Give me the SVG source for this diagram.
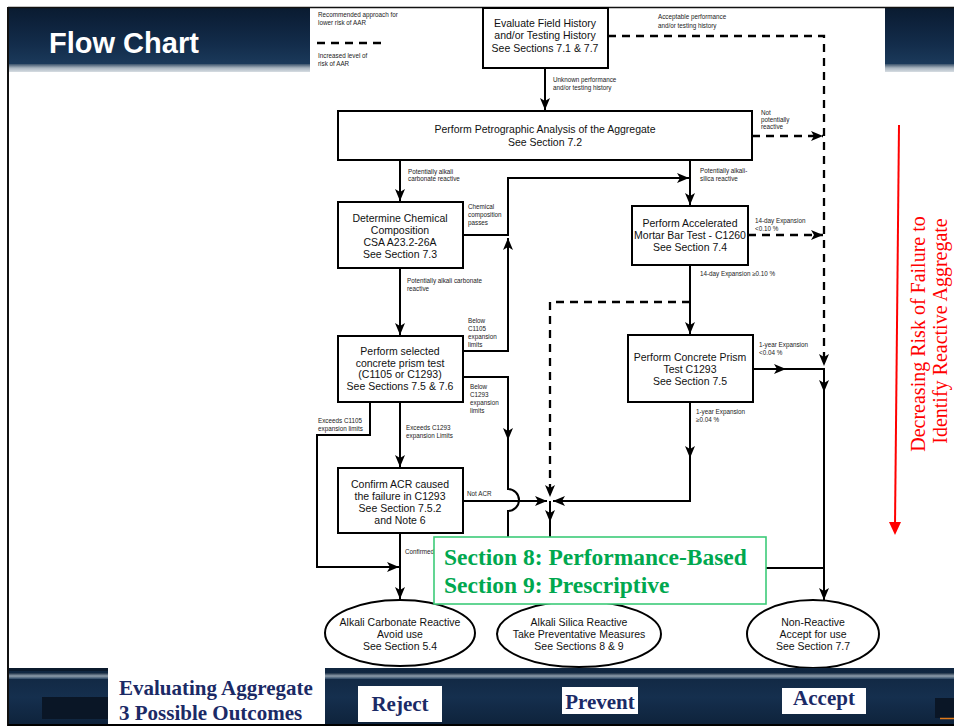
<svg xmlns="http://www.w3.org/2000/svg" width="954" height="726" viewBox="0 0 954 726">
<defs>
  <linearGradient id="navy" x1="0" y1="0" x2="0" y2="1">
    <stop offset="0" stop-color="#0a1b31"/>
    <stop offset="0.6" stop-color="#122b49"/>
    <stop offset="1" stop-color="#1b3a5b"/>
  </linearGradient>
  <linearGradient id="navyB" x1="0" y1="0" x2="0" y2="1">
    <stop offset="0" stop-color="#10263f"/>
    <stop offset="0.5" stop-color="#152f4e"/>
    <stop offset="1" stop-color="#0e223a"/>
  </linearGradient>
  <linearGradient id="stripe" x1="0" y1="0" x2="0" y2="1">
    <stop offset="0" stop-color="#3a526b"/>
    <stop offset="0.5" stop-color="#a9b5c0"/>
    <stop offset="1" stop-color="#d7dde2"/>
  </linearGradient>
  <linearGradient id="stripeB" x1="0" y1="0" x2="0" y2="1">
    <stop offset="0" stop-color="#1c2f45"/>
    <stop offset="0.5" stop-color="#8f9eac"/>
    <stop offset="1" stop-color="#2a4562"/>
  </linearGradient>
  <marker id="ah" viewBox="0 0 12 10" refX="12" refY="5" markerWidth="12" markerHeight="10" markerUnits="userSpaceOnUse" orient="auto">
    <path d="M0,0 L12,5 L0,10 L3,5 z" fill="#000" stroke="none"/>
  </marker>
  <style>
    .box{fill:#fff;stroke:#000;stroke-width:2}
    .bt{font-family:"Liberation Sans",Arial,sans-serif;font-size:10.5px;fill:#111;text-anchor:middle}
    .lb{font-family:"Liberation Sans",Arial,sans-serif;font-size:6.3px;fill:#222}
    .c{fill:none;stroke:#000;stroke-width:2}
    .a{marker-end:url(#ah)}
    .d{stroke-dasharray:8 6;stroke-width:2.3}
    .foot{font-family:"Liberation Serif","Times New Roman",serif;font-weight:bold;font-size:21px;fill:#1b2a66}
  </style>
</defs>

<!-- slide background -->
<rect x="0" y="0" width="954" height="726" fill="#fff"/>

<!-- header bands -->
<g id="header">
  <rect x="8" y="8" width="302" height="57" fill="url(#navy)"/>
  <rect x="8" y="64" width="302" height="8" fill="url(#stripe)"/>
  <rect x="885" y="8" width="69" height="57" fill="url(#navy)"/>
  <rect x="885" y="64" width="69" height="8" fill="url(#stripe)"/>
  <line x1="8" y1="7.5" x2="954" y2="7.5" stroke="#111" stroke-width="1.5"/>
  <line x1="8" y1="7" x2="8" y2="670" stroke="#111" stroke-width="2"/>
  <text x="49" y="53" font-family="'Liberation Sans',Arial,sans-serif" font-weight="bold" font-size="29" fill="#fff">Flow Chart</text>
</g>

<!-- legend -->
<g id="legend">
  <text class="lb" x="318" y="17">Recommended approach for</text>
  <text class="lb" x="318" y="25">lower risk of AAR</text>
  <line x1="317" y1="43" x2="385" y2="43" stroke="#000" stroke-width="2.3" stroke-dasharray="8 6"/>
  <text class="lb" x="318" y="58">Increased level of</text>
  <text class="lb" x="318" y="66">risk of AAR</text>
</g>

<!-- connectors -->
<g id="connectors">
  <path class="c a" d="M545,68 V110"/>
  <path class="c d a" d="M608,36 H824 V366"/>
  <path class="c d a" d="M752,136 H823"/>
  <path class="c a" d="M400,160 V201"/>
  <path class="c a" d="M690,160 V205"/>
  <path class="c a" d="M463,235 H508 V178 H689"/>
  <path class="c a" d="M463,351 H508 V238"/>
  <path class="c a" d="M400,268 V335"/>
  <path class="c d a" d="M748,235 H823"/>
  <path class="c a" d="M690,265 V334"/>
  <path class="c d a" d="M690,302 H550 V497"/>
  <path class="c a" d="M753,369 H786"/>
  <path class="c" d="M784,369 H824"/>
  <path class="c a" d="M824,368 V392"/>
  <path class="c a" d="M824,390 V600"/>
  <path class="c a" d="M690,402 V458"/>
  <path class="c a" d="M690,456 V501 H553"/>
  <path class="c a" d="M463,377 H508 V440"/>
  <path class="c" d="M508,438 V489 A11,11 0 0 1 508,511 V560"/>
  <path class="c a" d="M463,501 H547"/>
  <path class="c a" d="M550,501 V522"/>
  <path class="c" d="M550,520 V560"/>
  <path class="c a" d="M370,402 V435 H317 V567 H399"/>
  <path class="c a" d="M400,402 V467"/>
  <path class="c a" d="M400,533 V599"/>
  <path class="c" d="M740,568 H824"/>
</g>

<!-- connector labels -->
<g id="labels">
  <text class="lb" x="553" y="82">Unknown performance</text>
  <text class="lb" x="553" y="90">and/or testing history</text>
  <text class="lb" x="658" y="19">Acceptable performance</text>
  <text class="lb" x="658" y="28">and/or testing history</text>
  <text class="lb" x="761" y="115">Not</text>
  <text class="lb" x="761" y="122">potentially</text>
  <text class="lb" x="761" y="129">reactive</text>
  <text class="lb" x="408" y="174">Potentially alkali</text>
  <text class="lb" x="408" y="181">carbonate reactive</text>
  <text class="lb" x="700" y="173">Potentially alkali-</text>
  <text class="lb" x="700" y="181">silica reactive</text>
  <text class="lb" x="468" y="209">Chemical</text>
  <text class="lb" x="468" y="217">composition</text>
  <text class="lb" x="468" y="225">passes</text>
  <text class="lb" x="407" y="283">Potentially alkali carbonate</text>
  <text class="lb" x="407" y="291">reactive</text>
  <text class="lb" x="468" y="323">Below</text>
  <text class="lb" x="468" y="331">C1105</text>
  <text class="lb" x="468" y="339">expansion</text>
  <text class="lb" x="468" y="347">limits</text>
  <text class="lb" x="470" y="389">Below</text>
  <text class="lb" x="470" y="397">C1293</text>
  <text class="lb" x="470" y="405">expansion</text>
  <text class="lb" x="470" y="413">limits</text>
  <text class="lb" x="318" y="423">Exceeds C1105</text>
  <text class="lb" x="318" y="431">expansion limits</text>
  <text class="lb" x="406" y="430">Exceeds C1293</text>
  <text class="lb" x="406" y="438">expansion Limits</text>
  <text class="lb" x="467" y="496">Not ACR</text>
  <text class="lb" x="405" y="554">Confirmed</text>
  <text class="lb" x="755" y="223">14-day Expansion</text>
  <text class="lb" x="755" y="231">&lt;0.10 %</text>
  <text class="lb" x="700" y="276">14-day Expansion ≥0.10 %</text>
  <text class="lb" x="759" y="347">1-year Expansion</text>
  <text class="lb" x="759" y="355">&lt;0.04 %</text>
  <text class="lb" x="696" y="414">1-year Expansion</text>
  <text class="lb" x="696" y="422">≥0.04 %</text>
</g>

<!-- nodes -->
<g id="n-field">
  <rect class="box" x="483" y="8" width="125" height="60"/>
  <text class="bt" x="545" y="26.5">Evaluate Field History</text>
  <text class="bt" x="545" y="39">and/or Testing History</text>
  <text class="bt" x="545" y="51.5">See Sections 7.1 &amp; 7.7</text>
</g>
<g id="n-petro">
  <rect class="box" x="338" y="111" width="414" height="49"/>
  <text class="bt" x="545" y="133">Perform Petrographic Analysis of the Aggregate</text>
  <text class="bt" x="545" y="146">See Section 7.2</text>
</g>
<g id="n-chem">
  <rect class="box" x="338" y="202" width="125" height="66"/>
  <text class="bt" x="400" y="222">Determine Chemical</text>
  <text class="bt" x="400" y="234">Composition</text>
  <text class="bt" x="400" y="246">CSA A23.2-26A</text>
  <text class="bt" x="400" y="258">See Section 7.3</text>
</g>
<g id="n-amb">
  <rect class="box" x="632" y="206" width="116" height="59"/>
  <text class="bt" x="690" y="227">Perform Accelerated</text>
  <text class="bt" x="690" y="239">Mortar Bar Test - C1260</text>
  <text class="bt" x="690" y="251">See Section 7.4</text>
</g>
<g id="n-cpt-sel">
  <rect class="box" x="338" y="336" width="125" height="66"/>
  <text class="bt" x="400" y="355">Perform selected</text>
  <text class="bt" x="400" y="367">concrete prism test</text>
  <text class="bt" x="400" y="378">(C1105 or C1293)</text>
  <text class="bt" x="400" y="390">See Sections 7.5 &amp; 7.6</text>
</g>
<g id="n-cpt">
  <rect class="box" x="628" y="335" width="125" height="67"/>
  <text class="bt" x="690" y="361">Perform Concrete Prism</text>
  <text class="bt" x="690" y="373">Test C1293</text>
  <text class="bt" x="690" y="385">See Section 7.5</text>
</g>
<g id="n-acr">
  <rect class="box" x="338" y="468" width="125" height="65"/>
  <text class="bt" x="400" y="488">Confirm ACR caused</text>
  <text class="bt" x="400" y="500">the failure in C1293</text>
  <text class="bt" x="400" y="512">See Section 7.5.2</text>
  <text class="bt" x="400" y="524">and Note 6</text>
</g>
<g id="n-acr-out">
  <ellipse class="box" cx="400" cy="633" rx="75" ry="33"/>
  <text class="bt" x="400" y="626" font-size="10">Alkali Carbonate Reactive</text>
  <text class="bt" x="400" y="638" font-size="10">Avoid use</text>
  <text class="bt" x="400" y="650" font-size="10">See Section 5.4</text>
</g>
<g id="n-asr-out">
  <ellipse class="box" cx="579" cy="634" rx="82" ry="33"/>
  <text class="bt" x="579" y="626" font-size="10">Alkali Silica Reactive</text>
  <text class="bt" x="579" y="638" font-size="10">Take Preventative Measures</text>
  <text class="bt" x="579" y="650" font-size="10">See Sections 8 &amp; 9</text>
</g>
<g id="n-nonreactive">
  <ellipse class="box" cx="813" cy="634" rx="66" ry="34"/>
  <text class="bt" x="813" y="626" font-size="10">Non-Reactive</text>
  <text class="bt" x="813" y="638" font-size="10">Accept for use</text>
  <text class="bt" x="813" y="650" font-size="10">See Section 7.7</text>
</g>

<!-- green callout -->
<g id="n-sections">
  <rect x="434" y="537" width="332" height="67" fill="#fff" stroke="#3ccb78" stroke-width="1.6"/>
  <text x="444" y="565" font-family="'Liberation Serif','Times New Roman',serif" font-weight="bold" font-size="23.5" fill="#00a84f">Section 8: Performance-Based</text>
  <text x="444" y="593" font-family="'Liberation Serif','Times New Roman',serif" font-weight="bold" font-size="23.5" fill="#00a84f">Section 9: Prescriptive</text>
</g>

<!-- red risk arrow -->
<g id="risk">
  <line x1="899" y1="125" x2="895" y2="526" stroke="#ff0000" stroke-width="2"/>
  <polygon points="889,522 901,522 895,535" fill="#ff0000"/>
  <text transform="translate(925,334) rotate(-90)" text-anchor="middle" font-family="'Liberation Serif','Times New Roman',serif" font-size="20" fill="#ff0000">Decreasing Risk of Failure to</text>
  <text transform="translate(947,331) rotate(-90)" text-anchor="middle" font-family="'Liberation Serif','Times New Roman',serif" font-size="20" fill="#ff0000">Identify Reactive Aggregate</text>
</g>

<!-- footer band -->
<g id="footer">
  <rect x="0" y="668" width="954" height="58" fill="url(#navyB)"/>
  <rect x="8" y="668" width="100" height="3" fill="#0b1a2c"/>
  <rect x="8" y="673" width="946" height="6" fill="url(#stripeB)"/>
  <rect x="0" y="668" width="8" height="58" fill="#fff"/>
  <rect x="42" y="697" width="66" height="22" fill="#0a1626"/>
  <rect x="935" y="698" width="19" height="20" fill="#0a1626"/>
  <line x1="940" y1="718.5" x2="954" y2="718.5" stroke="#e07a1a" stroke-width="1.5"/>
  <line x1="8" y1="668" x2="8" y2="726" stroke="#111" stroke-width="2"/>
  <line x1="8" y1="725" x2="954" y2="725" stroke="#000" stroke-width="2"/>
  <rect x="108" y="667" width="217" height="57" fill="#fff"/>
  <text class="foot" x="119" y="695">Evaluating Aggregate</text>
  <text class="foot" x="119" y="720">3 Possible Outcomes</text>
  <rect x="358" y="686" width="84" height="36" fill="#fff"/>
  <text class="foot" x="400" y="711" text-anchor="middle">Reject</text>
  <rect x="562" y="687" width="76" height="27" fill="#fff"/>
  <text class="foot" x="600" y="709" text-anchor="middle">Prevent</text>
  <rect x="782" y="688" width="84" height="26" fill="#fff"/>
  <text class="foot" x="824" y="705" text-anchor="middle">Accept</text>
</g>
</svg>
